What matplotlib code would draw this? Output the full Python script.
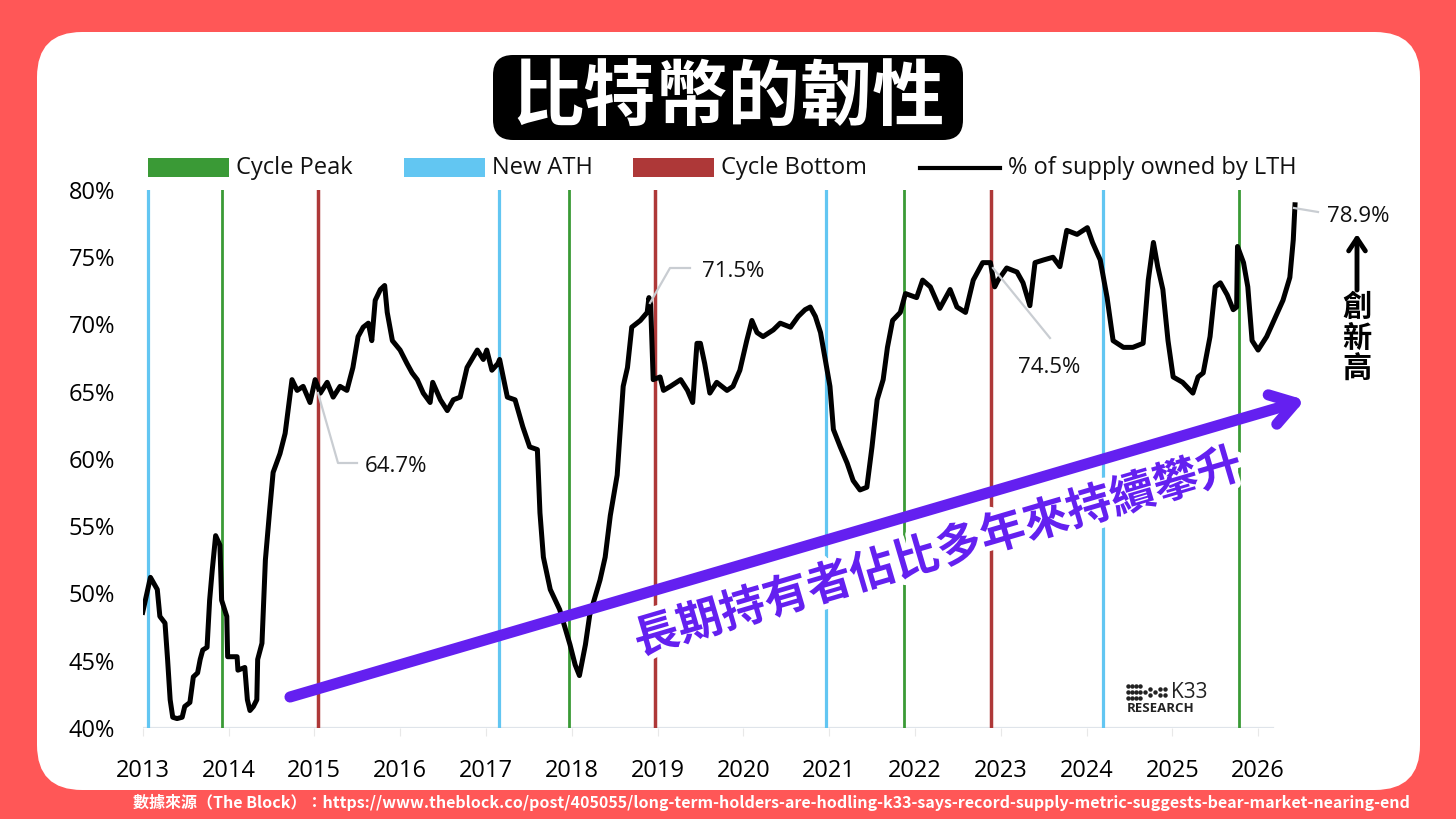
import matplotlib
matplotlib.use("Agg")
import matplotlib.pyplot as plt
import matplotlib.patheffects as pe
from matplotlib.patches import FancyBboxPatch, Rectangle, FancyArrowPatch
from matplotlib.lines import Line2D

plt.rcParams['font.family'] = ['Open Sans', 'Noto Sans CJK TC', 'DejaVu Sans']
CJK = ['Noto Sans CJK TC', 'DejaVu Sans']

# % of supply owned by long-term holders (decimal year, %)
years = [2013.00, 2013.09, 2013.17, 2013.20, 2013.26, 2013.29, 2013.32, 2013.35, 2013.40, 2013.46,
         2013.49, 2013.55, 2013.59, 2013.64, 2013.67, 2013.70, 2013.75, 2013.78, 2013.81, 2013.85,
         2013.90, 2013.92, 2013.98, 2013.99, 2014.10, 2014.11, 2014.19, 2014.22, 2014.25, 2014.29,
         2014.33, 2014.34, 2014.39, 2014.43, 2014.48, 2014.52, 2014.60, 2014.66, 2014.69, 2014.74,
         2014.80, 2014.87, 2014.95, 2015.01, 2015.07, 2015.15, 2015.22, 2015.30, 2015.38, 2015.45,
         2015.51, 2015.57, 2015.63, 2015.67, 2015.71, 2015.77, 2015.82, 2015.85, 2015.91, 2016.00,
         2016.08, 2016.14, 2016.20, 2016.27, 2016.35, 2016.38, 2016.47, 2016.55, 2016.62, 2016.70,
         2016.78, 2016.90, 2016.97, 2017.01, 2017.07, 2017.14, 2017.16, 2017.25, 2017.34, 2017.43,
         2017.51, 2017.60, 2017.63, 2017.67, 2017.75, 2017.86, 2017.98, 2018.04, 2018.09, 2018.16,
         2018.21, 2018.33, 2018.39, 2018.45, 2018.53, 2018.60, 2018.65, 2018.70, 2018.80, 2018.88,
         2018.90, 2018.92, 2018.95, 2019.03, 2019.07, 2019.15, 2019.27, 2019.35, 2019.41, 2019.46,
         2019.50, 2019.55, 2019.61, 2019.69, 2019.81, 2019.88, 2019.96, 2020.04, 2020.10, 2020.16,
         2020.23, 2020.35, 2020.43, 2020.55, 2020.64, 2020.72, 2020.78, 2020.84, 2020.90, 2020.95,
         2021.01, 2021.05, 2021.13, 2021.21, 2021.28, 2021.36, 2021.44, 2021.50, 2021.56, 2021.63,
         2021.68, 2021.74, 2021.83, 2021.89, 2022.02, 2022.09, 2022.18, 2022.29, 2022.41, 2022.49,
         2022.59, 2022.68, 2022.79, 2022.88, 2022.93, 2022.97, 2023.07, 2023.19, 2023.26, 2023.34,
         2023.40, 2023.50, 2023.61, 2023.69, 2023.77, 2023.89, 2024.01, 2024.07, 2024.16, 2024.24,
         2024.31, 2024.43, 2024.54, 2024.66, 2024.72, 2024.78, 2024.83, 2024.89, 2024.95, 2025.01,
         2025.12, 2025.24, 2025.30, 2025.36, 2025.44, 2025.50, 2025.56, 2025.64, 2025.71, 2025.75,
         2025.76, 2025.83, 2025.88, 2025.93, 2026.00, 2026.10, 2026.17, 2026.29, 2026.37, 2026.41,
         2026.43]
lth_pct = [48.6, 51.2, 50.3, 48.3, 47.8, 45.1, 42.1, 40.8, 40.7, 40.8,
           41.6, 41.9, 43.8, 44.1, 45.1, 45.8, 46.0, 49.5, 51.7, 54.3,
           53.6, 49.5, 48.3, 45.3, 45.3, 44.3, 44.5, 42.1, 41.3, 41.6,
           42.1, 45.1, 46.3, 52.5, 56.2, 59.0, 60.4, 61.9, 63.4, 65.9,
           65.1, 65.4, 64.2, 65.9, 64.9, 65.7, 64.6, 65.4, 65.1, 66.8,
           69.1, 69.8, 70.1, 68.8, 71.8, 72.6, 72.9, 70.9, 68.8, 68.1,
           67.1, 66.4, 65.9, 64.9, 64.2, 65.7, 64.4, 63.6, 64.4, 64.6,
           66.8, 68.1, 67.4, 68.1, 66.6, 67.1, 67.4, 64.6, 64.4, 62.4,
           60.9, 60.7, 56.0, 52.7, 50.3, 48.8, 46.2, 44.7, 43.9, 46.2,
           48.4, 51.0, 52.7, 55.8, 58.8, 65.4, 66.8, 69.8, 70.3, 70.9,
           72.0, 71.5, 65.9, 66.1, 65.1, 65.4, 65.9, 65.1, 64.2, 68.6,
           68.6, 67.1, 64.9, 65.7, 65.1, 65.4, 66.6, 68.8, 70.3, 69.4,
           69.1, 69.6, 70.1, 69.8, 70.6, 71.1, 71.3, 70.6, 69.4, 67.6,
           65.4, 62.2, 60.9, 59.7, 58.4, 57.7, 57.9, 60.9, 64.4, 65.9,
           68.3, 70.3, 70.9, 72.3, 72.0, 73.3, 72.8, 71.2, 72.6, 71.3,
           70.9, 73.3, 74.6, 74.6, 72.8, 73.3, 74.2, 73.9, 73.1, 71.4,
           74.6, 74.8, 75.0, 74.3, 77.0, 76.7, 77.2, 76.1, 74.8, 72.0,
           68.8, 68.3, 68.3, 68.6, 73.3, 76.1, 74.3, 72.6, 68.8, 66.1,
           65.7, 64.9, 66.1, 66.4, 69.1, 72.8, 73.1, 72.2, 71.1, 71.3,
           75.8, 74.6, 72.8, 68.8, 68.1, 69.1, 70.1, 71.8, 73.5, 76.3,
           78.9]

new_ath = [2013.06, 2017.15, 2020.96, 2024.19]
cycle_peak = [2013.92, 2017.97, 2021.87, 2025.78]
cycle_bottom = [2015.04, 2018.97, 2022.89]

tick_years = list(range(2013, 2027))
y_ticks = [40, 45, 50, 55, 60, 65, 70, 75, 80]

callouts = ['64.7%', '71.5%', '74.5%', '78.9%']

title = '比特幣的韌性'
trend_text = '長期持有者佔比多年來持續攀升'
source = ('數據來源（The Block）：https://www.theblock.co/post/405055/long-term-holders-are-hodling-'
          'k33-says-record-supply-metric-suggests-bear-market-nearing-end')

RED_BG = '#FF5757'
CYAN = '#62C6F2'
GREEN = '#3A9A36'
DARKRED = '#AE3838'
PURPLE = '#6420F0'

W, H = 1456, 819


def fx(x):
    return x / W


def fy(y):
    return 1 - y / H


fig = plt.figure(figsize=(W / 100, H / 100), dpi=100)
fig.patch.set_facecolor(RED_BG)

# white card
card = FancyBboxPatch((0.37, 0.29), 13.83, 7.58, boxstyle='round,pad=0,rounding_size=0.45',
                      transform=fig.dpi_scale_trans, fc='white', ec='none', zorder=-5)
fig.add_artist(card)

# title
tbox = FancyBboxPatch((4.93, 6.79), 4.70, 0.85, boxstyle='round,pad=0,rounding_size=0.2',
                      transform=fig.dpi_scale_trans, fc='black', ec='none', zorder=-4)
fig.add_artist(tbox)
fig.text(fx(728), fy(99), title, color='white', fontsize=52, fontweight='bold',
         family=CJK, ha='center', va='center')

# chart
x0, x1 = 2013, 2026.6
ax = fig.add_axes([fx(142.7), fy(728), (x1 - x0) * 85.8 / W, (728 - 190) / H])
ax.patch.set_alpha(0)
ax.set_xlim(x0, x1)
ax.set_ylim(40, 80)

for x in new_ath:
    ax.axvline(x, color=CYAN, lw=2.3, zorder=1)
for x in cycle_peak:
    ax.axvline(x, color=GREEN, lw=2.0, zorder=1)
for x in cycle_bottom:
    ax.axvline(x, color=DARKRED, lw=2.5, zorder=1)

ax.plot(years, lth_pct, color='black', lw=3.6, zorder=3, solid_joinstyle='round')
ax.axhline(40, xmin=0, xmax=(2026.17 - x0) / (x1 - x0), color='#dfe4ea', lw=1.6, zorder=0)

for s in ax.spines.values():
    s.set_visible(False)
ax.set_xticks(tick_years)
ax.set_xticklabels([str(t) for t in tick_years], fontsize=17)
ax.set_yticks(y_ticks)
ax.set_yticklabels([f'{v}%' for v in y_ticks], fontsize=17)
ax.tick_params(axis='x', length=6, color='#e8e8e8', pad=16)
ax.tick_params(axis='y', length=0, pad=20)

# legend drawn by hand along the top
leg = [(148, GREEN, 'Cycle Peak'), (404, CYAN, 'New ATH'), (633, DARKRED, 'Cycle Bottom')]
for xl, col, lab in leg:
    fig.add_artist(Rectangle((fx(xl), fy(177)), 81 / W, 19 / H, transform=fig.transFigure,
                             fc=col, ec='none'))
    fig.text(fx(xl + 88), fy(168), lab, fontsize=17, va='center', ha='left', color='#111111')
fig.add_artist(Line2D([fx(920), fx(1000)], [fy(168), fy(168)], color='black', lw=3,
                      transform=fig.transFigure))
fig.text(fx(1008), fy(168), '% of supply owned by LTH', fontsize=17, va='center', ha='left',
         color='#111111')

# callouts with grey leader lines
leaders = [([318, 338, 357], [393, 463, 463]),
           ([650, 670, 690], [303, 268, 268]),
           ([993, 1050], [268, 338]),
           ([1294, 1318], [208, 212])]
label_pos = [(365, 467), (702, 272), (1018, 368), (1327, 217)]
for (lx, ly), (tx, ty), lab in zip(leaders, label_pos, callouts):
    fig.add_artist(Line2D([fx(v) for v in lx], [fy(v) for v in ly], color='#c9cdd2', lw=1.6,
                          transform=fig.transFigure, zorder=4))
    fig.text(fx(tx), fy(ty), lab, fontsize=16, ha='left', va='center', color='#111111')

# up arrow + vertical caption
fig.add_artist(FancyArrowPatch((fx(1357), fy(290)), (fx(1357), fy(234)), transform=fig.transFigure,
                               arrowstyle='->,head_length=9,head_width=6', mutation_scale=1,
                               lw=3.5, color='black', shrinkA=0, shrinkB=0))
fig.text(fx(1357), fy(338), '創\n新\n高', fontsize=21, fontweight='bold', family=CJK,
         ha='center', va='center', linespacing=1.05, color='black')

# purple trend arrow and caption
fig.add_artist(FancyArrowPatch((fx(290), fy(697)), (fx(1305), fy(400)), transform=fig.transFigure,
                               arrowstyle='->,head_length=17,head_width=11', mutation_scale=1,
                               lw=8, color=PURPLE, shrinkA=0, shrinkB=0, joinstyle='round',
                               capstyle='round', zorder=5))
fig.text(fx(938), fy(553), trend_text, fontsize=32.5, fontweight='bold', family=CJK, color=PURPLE,
         rotation=16.4, rotation_mode='anchor', ha='center', va='center', zorder=6,
         path_effects=[pe.withStroke(linewidth=8, foreground='white')])

# K33 research logo
dots_x = [1128, 1132, 1136, 1140, 1128, 1132, 1136, 1140, 1128, 1132, 1136, 1140,
          1145, 1150, 1150, 1155, 1160, 1160, 1165, 1165]
dots_y = [686, 686, 686, 686, 692, 692, 692, 692, 698, 698, 698, 698,
          692, 689, 695, 692, 689, 695, 689, 695]
fig.add_artist(Line2D([fx(v) for v in dots_x], [fy(v) for v in dots_y], ls='none', marker='o',
                      ms=2.2, color='#222222', transform=fig.transFigure))
fig.text(fx(1171), fy(692), 'K33', fontsize=15, ha='left', va='center', color='#222222')
fig.text(fx(1127), fy(709), 'RESEARCH', fontsize=9.5, fontweight='bold', ha='left', va='center',
         color='#222222')

# source line, scaled to the width it has in the picture
src = fig.text(fx(133), fy(802), source, fontsize=11, fontweight='bold', family=CJK,
               color='white', ha='left', va='center')
fig.canvas.draw()
bb = src.get_window_extent()
src.set_fontsize(11 * (1410 - 133) / bb.width)

fig.savefig('out.png', dpi=100, facecolor=fig.get_facecolor())
